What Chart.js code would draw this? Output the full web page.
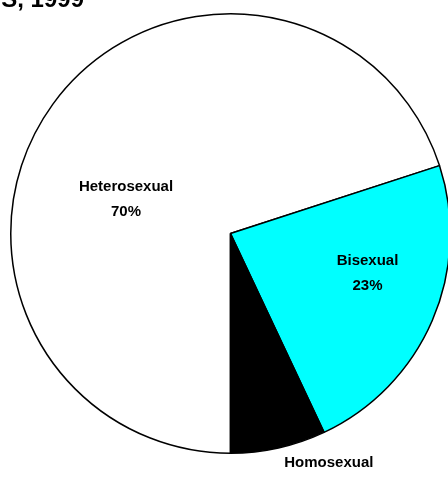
<!DOCTYPE html>
<html>
<head>
<meta charset="utf-8">
<script src="https://cdn.jsdelivr.net/npm/chart.js@4/dist/chart.umd.min.js"></script>
<style>
  body { margin: 0; background: #fff; }
  #wrap { position: relative; width: 448px; height: 477px; overflow: hidden; }
  #pieChart { position: absolute; left: 0; top: -20px; }
</style>
</head>
<body>
<div id="wrap"><canvas id="pieChart" width="460" height="520"></canvas></div>
<script>
// data
var categories = ["Heterosexual", "Bisexual", "Homosexual"];
var percents = [70, 23, 7];
var sliceColors = ["#ffffff", "#00ffff", "#000000"];
var titleText = "S, 1999";

// label placement: fraction of radius, angle shift (deg) from slice middle
var labelRadius = [0.50, 0.65, 1.19];
var labelShift = [-18, -7, -9.5];

var labelPlugin = {
  id: 'sliceLabels',
  afterDraw: function(chart) {
    var ctx = chart.ctx;
    var meta = chart.getDatasetMeta(0);
    ctx.save();
    ctx.fillStyle = '#000';
    ctx.textAlign = 'center';
    ctx.textBaseline = 'middle';
    ctx.font = 'bold 15px "Liberation Sans", Arial, sans-serif';
    meta.data.forEach(function(arc, i) {
      var p = arc.getProps(['x', 'y', 'startAngle', 'endAngle', 'outerRadius'], true);
      var a = (p.startAngle + p.endAngle) / 2 + labelShift[i] * Math.PI / 180;
      var r = p.outerRadius * labelRadius[i];
      var x = p.x + r * Math.cos(a);
      var y = p.y + r * Math.sin(a);
      ctx.fillText(categories[i], x, y - 12.5);
      ctx.fillText(percents[i] + '%', x, y + 12.5);
    });
    // title, clipped at the top-left like the source
    ctx.textAlign = 'right';
    ctx.textBaseline = 'alphabetic';
    ctx.font = 'bold 24px "Liberation Sans", Arial, sans-serif';
    ctx.fillText(titleText, 84, 27);
    ctx.restore();
  }
};

var ctxP = document.getElementById("pieChart").getContext('2d');
var myPieChart = new Chart(ctxP, {
  type: 'pie',
  data: {
    labels: categories,
    datasets: [{
      data: percents,
      backgroundColor: sliceColors,
      borderColor: '#000',
      borderWidth: 1.5
    }]
  },
  options: {
    responsive: false,
    animation: false,
    rotation: 180,
    layout: { padding: { left: 10, right: 9, top: 33, bottom: 46 } },
    events: [],
    plugins: {
      legend: { display: false },
      tooltip: { enabled: false }
    }
  },
  plugins: [labelPlugin]
});
</script>
</body>
</html>
